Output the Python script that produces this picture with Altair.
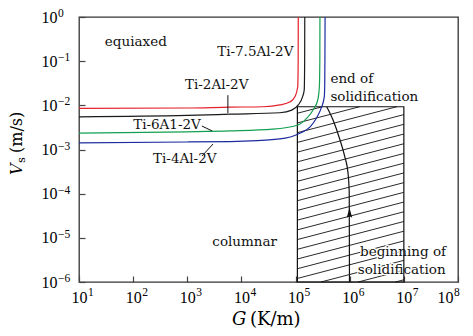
import math
import altair as alt
import pandas as pd

# ---------------- data ----------------
alloys = ["Ti-7.5Al-2V", "Ti-2Al-2V", "Ti-6A1-2V", "Ti-4Al-2V"]
alloy_colors = ["#e3202b", "#1a1a1a", "#12a050", "#1c2c9e"]

red_G = [10, 1000, 6170, 2.51e4, 5.13e4, 7.94e4, 9.77e4, 1.096e5, 1.117e5, 1.122e5]
red_V = [8.5e-3, 8.7e-3, 9.1e-3, 9.3e-3, 1.02e-2, 1.2e-2, 1.58e-2, 2.63e-2, 0.1, 1.0]

black_G = [10, 1000, 6170, 5.13e4, 8.51e4, 1.122e5, 1.349e5, 1.445e5, 1.472e5, 1.479e5]
black_V = [5.5e-3, 5.9e-3, 6.3e-3, 6.8e-3, 7.8e-3, 1.02e-2, 1.58e-2, 2.24e-2, 0.1, 1.0]

green_G = [10, 1000, 6170, 3.8e4, 1.07e5, 1.62e5, 2.09e5, 2.57e5, 2.75e5, 2.805e5, 2.82e5]
green_V = [2.34e-3, 2.51e-3, 2.63e-3, 2.88e-3, 3.55e-3, 5.13e-3, 7.76e-3, 1.32e-2, 2.63e-2, 0.1, 1.0]

blue_G = [10, 1000, 6170, 5.13e4, 1.2e5, 1.86e5, 2.51e5, 3.02e5, 3.39e5, 3.451e5, 3.483e5, 3.508e5]
blue_V = [1.41e-3, 1.48e-3, 1.51e-3, 1.74e-3, 2.34e-3, 3.24e-3, 5.5e-3, 9.1e-3, 1.55e-2, 2.63e-2, 0.1, 1.0]

# solidification window (hatched box) and solidification path
rect_G = [1.08e5, 1.0e7]
rect_V = [1.0e-6, 9.3e-3]
path_G = [3.76e5, 4.9e5, 6.6e5, 8.1e5, 9.3e5, 9.8e5, 9.9e5]
path_V = [9.3e-3, 4.7e-3, 1.66e-3, 6.9e-4, 2.95e-4, 1.05e-4, 1.0e-6]
arrow_G = [9.9e5]
arrow_V = [3.47e-5]

# annotations
label_text = ["equiaxed", "Ti-7.5Al-2V", "Ti-2Al-2V", "Ti-6A1-2V", "Ti-4Al-2V",
              "end of", "solidification", "columnar"]
label_G = [30, 3560, 906, 100, 233, 4.4e5, 4.4e5, 2.9e3]
label_V = [0.27, 0.16, 0.029, 3.59e-3, 6.1e-4, 0.0395, 0.0155, 8.1e-6]

inbox_text = ["beginning of", "solidification"]
inbox_G = [1.55e6, 1.41e6]
inbox_V = [4.8e-6, 1.87e-6]

leader_G1 = [5620, 1860, 1860]
leader_G2 = [5620, 2880, 2990]
leader_V1 = [0.017, 3.4e-3, 7.1e-4]
leader_V2 = [6.7e-3, 2.63e-3, 1.33e-3]

x_ticks = [1e1, 1e2, 1e3, 1e4, 1e5, 1e6, 1e7, 1e8]
y_ticks = [1e-6, 1e-5, 1e-4, 1e-3, 1e-2, 1e-1, 1e0]

x_title_parts = ["G", "(K/m)"]
y_title_parts = ["V", "s", "(m/s)"]

# ---------------- frames ----------------
curves = []
for name, Gs, Vs in zip(alloys, [red_G, black_G, green_G, blue_G],
                        [red_V, black_V, green_V, blue_V]):
    for i, (g, v) in enumerate(zip(Gs, Vs)):
        curves.append({"alloy": name, "G": g, "V": v, "i": i})
curves = pd.DataFrame(curves)

# hatch pattern (decorative fill of the box, straight lines in log-log space)
HATCH_SLOPE = 0.32
HATCH_STEP = 0.22
lg0, lg1 = math.log10(rect_G[0]), math.log10(rect_G[1])
lv0, lv1 = math.log10(rect_V[0]), math.log10(rect_V[1])
hatch = []
c = lv0 - HATCH_SLOPE * (lg1 - lg0) + 0.05
while c < lv1:
    ga, va = lg0, c
    if va < lv0:
        ga, va = lg0 + (lv0 - c) / HATCH_SLOPE, lv0
    gb, vb = lg1, c + HATCH_SLOPE * (lg1 - lg0)
    if vb > lv1:
        gb, vb = lg0 + (lv1 - c) / HATCH_SLOPE, lv1
    if gb > ga + 1e-6:
        hatch.append({"G": 10 ** ga, "G2": 10 ** gb, "V": 10 ** va, "V2": 10 ** vb})
    c += HATCH_STEP
hatch = pd.DataFrame(hatch)

box = pd.DataFrame({"G": [rect_G[0]], "G2": [rect_G[1]], "V": [rect_V[0]], "V2": [rect_V[1]]})
path = pd.DataFrame({"G": path_G, "V": path_V, "i": list(range(len(path_G)))})
arrow = pd.DataFrame({"G": arrow_G, "V": arrow_V})
labels = pd.DataFrame({"t": label_text, "G": label_G, "V": label_V})
inbox = pd.DataFrame({"t": inbox_text, "G": inbox_G, "V": inbox_V})
leaders = pd.DataFrame({"G": leader_G1, "G2": leader_G2, "V": leader_V1, "V2": leader_V2})


def expo(v):
    e = int(round(math.log10(v)))
    return ("\u2212" + str(-e)) if e < 0 else str(e)


x_exp = pd.DataFrame({"G": x_ticks, "e": [expo(t) for t in x_ticks]})
y_exp = pd.DataFrame({"V": y_ticks, "e": [expo(t) for t in y_ticks]})

# ---------------- scales / axes ----------------
SERIF = "DejaVu Serif"
TICKFONT = "Liberation Serif"
xscale = alt.Scale(type="log", domain=[10, 1e8], nice=False)
yscale = alt.Scale(type="log", domain=[1e-6, 1], nice=False)
xaxis = alt.Axis(values=x_ticks, grid=False, domain=False, tickSize=6, offset=-6,
                 tickColor="#444", tickWidth=1.2, labelPadding=7, labelFlush=False,
                 labelOffset={"condition": {"test": "datum.value >= 1e8", "value": -13},
                              "value": 0},
                 labelFont=TICKFONT, labelFontSize=16, labelColor="black",
                 labelExpr="'10'", title="")
yaxis = alt.Axis(values=y_ticks, grid=False, domain=False, tickSize=6, offset=-6,
                 tickColor="#444", tickWidth=1.2, labelPadding=22, labelAlign="right",
                 labelBaseline="middle", labelFlush=False,
                 labelFont=TICKFONT, labelFontSize=16, labelColor="black",
                 labelExpr="'10'", title="")

X = alt.X("G:Q", scale=xscale, axis=xaxis)
Y = alt.Y("V:Q", scale=yscale, axis=yaxis)

hatch_layer = alt.Chart(hatch).mark_rule(color="#111", strokeWidth=0.9).encode(
    x=X, y=Y, x2="G2:Q", y2="V2:Q")

halo_layer = alt.Chart(inbox).mark_text(align="left", baseline="middle", font=SERIF,
                                        fontSize=13.5, color="white", stroke="white",
                                        strokeWidth=2.5).encode(x=X, y=Y, text="t:N")

box_layer = alt.Chart(box).mark_rect(fill=None, stroke="#111", strokeWidth=1.2).encode(
    x=X, y=Y, x2="G2:Q", y2="V2:Q")

path_layer = alt.Chart(path).mark_line(color="#111", strokeWidth=1.2,
                                       interpolate="monotone").encode(
    x=X, y=Y, order="i:Q")

arrow_layer = alt.Chart(arrow).mark_point(
    shape="M0,-1L0.45,0.6L0,0.35L-0.45,0.6Z", filled=True, color="#111",
    size=150, opacity=1).encode(x=X, y=Y)

curve_layer = alt.Chart(curves).mark_line(strokeWidth=1.2, interpolate="monotone",
                                          clip=True).encode(
    x=X, y=Y, order="i:Q",
    color=alt.Color("alloy:N", scale=alt.Scale(domain=alloys, range=alloy_colors),
                    legend=None))

leader_layer = alt.Chart(leaders).mark_rule(color="#111", strokeWidth=1.0).encode(
    x=X, y=Y, x2="G2:Q", y2="V2:Q")

text_layer = alt.Chart(labels).mark_text(align="left", baseline="middle", font=SERIF,
                                         fontSize=13.5, color="#111").encode(
    x=X, y=Y, text="t:N")

inbox_layer = alt.Chart(inbox).mark_text(align="left", baseline="middle", font=SERIF,
                                         fontSize=13.5, color="#111").encode(
    x=X, y=Y, text="t:N")

# tick-label exponents (superscripts) placed next to the axis "10" labels
x_exp_layer = alt.Chart(x_exp).transform_filter("datum.G < 1e8").mark_text(
    align="left", baseline="alphabetic", dx=9,
    font=TICKFONT, fontSize=11.5, color="black").encode(
    x=X, y=alt.value(279), text="e:N")
x_exp_last = alt.Chart(x_exp).transform_filter("datum.G >= 1e8").mark_text(
    align="left", baseline="alphabetic", dx=-4,
    font=TICKFONT, fontSize=11.5, color="black").encode(
    x=X, y=alt.value(279), text="e:N")
y_exp_layer = alt.Chart(y_exp).mark_text(align="left", baseline="alphabetic",
                                         font=TICKFONT, fontSize=11.5, color="black").encode(
    x=alt.value(-21), y=Y, text="e:N")

# axis titles (italic symbol + upright unit)
xt = pd.DataFrame({"t": x_title_parts})
x_title_layer = alt.layer(
    alt.Chart(xt).transform_filter("datum.t == 'G'").mark_text(
        align="left", baseline="alphabetic", font=SERIF, fontSize=18,
        fontStyle="italic", color="black").encode(
        x=alt.value(153), y=alt.value(308), text="t:N"),
    alt.Chart(xt).transform_filter("datum.t != 'G'").mark_text(
        align="left", baseline="alphabetic", font=SERIF, fontSize=18,
        color="black").encode(x=alt.value(171), y=alt.value(308), text="t:N"),
)
yt = pd.DataFrame({"t": y_title_parts})
y_title_layer = alt.layer(
    alt.Chart(yt).transform_filter("datum.t == 'V'").mark_text(
        align="left", baseline="alphabetic", angle=270, font=SERIF, fontSize=16,
        fontStyle="italic", color="black").encode(
        x=alt.value(-57), y=alt.value(158), text="t:N"),
    alt.Chart(yt).transform_filter("datum.t == 's'").mark_text(
        align="left", baseline="alphabetic", angle=270, font=SERIF, fontSize=11.5,
        color="black").encode(x=alt.value(-54), y=alt.value(146), text="t:N"),
    alt.Chart(yt).transform_filter("datum.t == '(m/s)'").mark_text(
        align="left", baseline="alphabetic", angle=270, font=SERIF, fontSize=16,
        color="black").encode(x=alt.value(-57), y=alt.value(136), text="t:N"),
)

chart = alt.layer(
    hatch_layer, halo_layer, box_layer, path_layer, arrow_layer,
    curve_layer, leader_layer, text_layer, inbox_layer,
    x_exp_layer, x_exp_last, y_exp_layer, x_title_layer, y_title_layer
).properties(
    width=379, height=265,
    autosize=alt.AutoSizeParams(type="none"),
    padding={"left": 71, "top": 9, "right": 7, "bottom": 46},
    background="white",
).configure_view(stroke="#333", strokeWidth=1.3)

chart.save("out.html", embed_options={"renderer": "svg", "actions": False})
